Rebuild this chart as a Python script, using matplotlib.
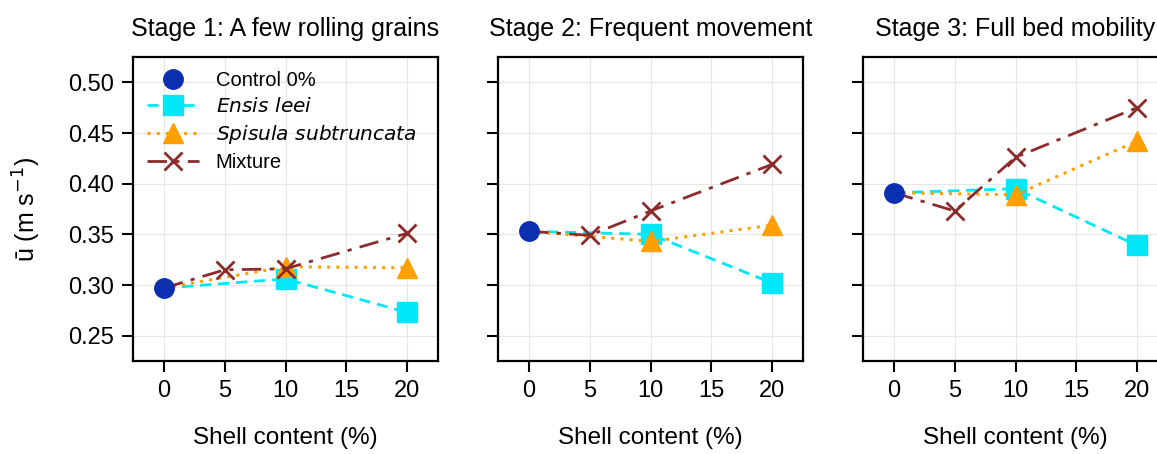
#!/usr/bin/env python3
"""Mean flow velocity vs shell content for three bed mobility stages."""
import matplotlib
matplotlib.use("Agg")
import matplotlib.pyplot as plt

stages = ["Stage 1: A few rolling grains", "Stage 2: Frequent movement", "Stage 3: Full bed mobility"]

control = [0.297, 0.353, 0.391]

ensis_x = [0, 10, 20]
ensis = [
    [0.297, 0.306, 0.273],
    [0.353, 0.350, 0.302],
    [0.391, 0.395, 0.339],
]

spisula_x = [0, 10, 20]
spisula = [
    [0.297, 0.318, 0.317],
    [0.353, 0.343, 0.359],
    [0.391, 0.389, 0.442],
]

mix_x = [0, 5, 10, 20]
mixture = [
    [0.297, 0.315, 0.316, 0.351],
    [0.353, 0.349, 0.373, 0.419],
    [0.391, 0.373, 0.426, 0.475],
]

xticks = [0, 5, 10, 15, 20]
yticks = [0.25, 0.30, 0.35, 0.40, 0.45, 0.50]

plt.rcParams["font.family"] = ["Liberation Sans", "DejaVu Sans"]
plt.rcParams["mathtext.fontset"] = "dejavusans"

W, H = 1157, 454
fig = plt.figure(figsize=(W / 100, H / 100), dpi=100)

lefts = [133, 498, 863]
ax_w, top, bottom = 305, 57, 361
skip0 = slice(1, None)  # the control marker sits at x=0

for i, left in enumerate(lefts):
    ax = fig.add_axes([left / W, (H - bottom) / H, ax_w / W, (bottom - top) / H])

    ax.plot([0], [control[i]], color="#0a30b0", ls="none", marker="o",
            ms=14, label="Control 0%", zorder=6)
    ax.plot(ensis_x, ensis[i], color="#00e8f8", ls=(0, (4, 2.5)), lw=2,
            marker="s", ms=14, markevery=skip0,
            label=r"$\it{Ensis\ leei}$", zorder=3)
    ax.plot(spisula_x, spisula[i], color="#ffa000", ls=(0, (1, 2)), lw=2.2,
            marker="^", ms=15, markevery=skip0,
            label=r"$\it{Spisula\ subtruncata}$", zorder=4)
    ax.plot(mix_x, mixture[i], color="#8b2b2b", ls=(0, (7, 3, 1.5, 3)), lw=2,
            marker="x", ms=13, mew=2, markevery=skip0, label="Mixture", zorder=5)

    ax.set_xlim(-2.55, 22.55)
    ax.set_ylim(0.225, 0.525)
    ax.set_xticks(xticks)
    ax.set_yticks(yticks)
    ax.grid(True, color="#e6e6e6", lw=0.8)
    ax.set_axisbelow(True)
    for s in ax.spines.values():
        s.set_linewidth(1.6)
    ax.tick_params(direction="out", length=8, width=1.5, labelsize=17, pad=6)
    ax.set_title(stages[i], fontsize=18, pad=15)
    ax.set_xlabel("Shell content (%)", fontsize=17.5, labelpad=18)
    if i == 0:
        ax.set_yticklabels([f"{v:.2f}" for v in yticks])
        ax.set_ylabel("ū (m s$^{-1}$)", fontsize=18, labelpad=18)
        ax.legend(loc="upper left", frameon=False,
                  fontsize=14.5, handlelength=2.6, labelspacing=0.35,
                  borderaxespad=0.3, bbox_to_anchor=(0.0, 1.0))
    else:
        ax.set_yticklabels([])

fig.savefig("out.png", dpi=100)
